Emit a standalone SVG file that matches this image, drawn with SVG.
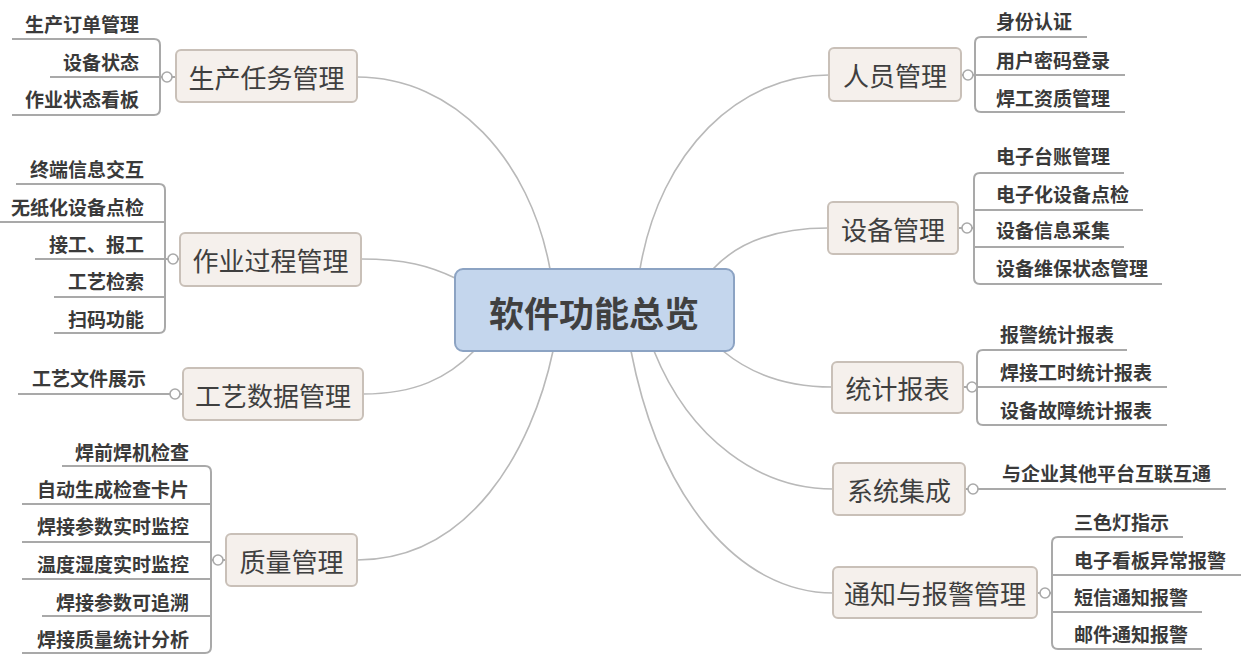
<svg xmlns="http://www.w3.org/2000/svg" width="1241" height="661" viewBox="0 0 1241 661">
<defs>
<style>
.bg{fill:#ffffff}
.curve{fill:none;stroke:#b9b9b9;stroke-width:1.6}
.br{fill:none;stroke:#a9a9a9;stroke-width:2}
.dot{fill:#ffffff;stroke:#a9a9a9;stroke-width:1.6}
.main rect{fill:#f5f0ec;stroke:#c9c0b8;stroke-width:2}
.main text{font-family:"Noto Sans CJK SC","Liberation Sans",sans-serif;font-size:26px;fill:#3f3f3f;text-anchor:middle;dominant-baseline:central}
.sub{font-family:"Noto Sans CJK SC","Liberation Sans",sans-serif;font-size:19px;font-weight:bold;fill:#3a3a3a;dominant-baseline:central}
.l{text-anchor:end}
.r{text-anchor:start}
</style>
</defs>
<rect class="bg" x="0" y="0" width="1241" height="661"/>

<g id="connectors">
<path class="curve" d="M357,77 C455,77 530,160 550,269"/>
<path class="curve" d="M361,259 C405,259 430,266 455,278"/>
<path class="curve" d="M363,394 C415,394 448,378 474,351"/>
<path class="curve" d="M357,560 C470,560 532,450 553,351"/>
<path class="curve" d="M640,269 C660,150 740,75 829,75"/>
<path class="curve" d="M713,269 C740,240 780,228 828,228"/>
<path class="curve" d="M723,351 C752,375 790,387 832,387"/>
<path class="curve" d="M654,351 C690,440 760,489 833,489"/>
<path class="curve" d="M631,351 C660,500 740,593 833,593"/>
<!-- short stubs from circles to boxes -->
<path class="br" d="M172,77 H176 M178,259 H180 M180,394 H183 M223,560 H226 M961,75 H963 M958,228 H962 M963,387 H967 M965,489 H968 M1037,593 H1040"/>
<!-- left brackets -->
<path class="br" d="M12,39 H154 Q160,39 160,45 V109 Q160,115 154,115 H12 M50,77 H162"/>
<path class="br" d="M16,184 H159 Q165,184 165,190 V327 Q165,333 159,333 H54 M0,222 H165 M35,259 H168 M54,297 H165"/>
<path class="br" d="M18,394 H170"/>
<path class="br" d="M62,466 H205 Q211,466 211,472 V647 Q211,653 205,653 H22 M22,504 H211 M22,542 H211 M22,579 H211 M42,616 H211 M211,560 H213"/>
<!-- right brackets -->
<path class="br" d="M1087,37 H981 Q975,37 975,43 V106 Q975,112 981,112 H1125 M973,75 H1125"/>
<path class="br" d="M1124,173 H980 Q974,173 974,179 V278 Q974,284 980,284 H1162 M974,210 H1143 M974,247 H1124 M972,228 H974"/>
<path class="br" d="M1127,350 H983 Q977,350 977,356 V419 Q977,425 983,425 H1167 M977,387 H1167"/>
<path class="br" d="M978,489 H1226"/>
<path class="br" d="M1183,537 H1058 Q1052,537 1052,543 V643 Q1052,649 1058,649 H1202 M1052,575 H1241 M1052,612 H1202 M1050,593 H1052"/>
<circle class="dot" cx="167" cy="77" r="5"/>
<circle class="dot" cx="173" cy="259" r="5"/>
<circle class="dot" cx="175" cy="394" r="5"/>
<circle class="dot" cx="218" cy="560" r="5"/>
<circle class="dot" cx="968" cy="75" r="5"/>
<circle class="dot" cx="967" cy="228" r="5"/>
<circle class="dot" cx="972" cy="387" r="5"/>
<circle class="dot" cx="973" cy="489" r="5"/>
<circle class="dot" cx="1045" cy="593" r="5"/>
</g>

<g id="center">
<rect x="455" y="269" width="279" height="82" rx="8" fill="#c4d6ed" stroke="#8ca3c3" stroke-width="2"/>
<text x="594" y="311" font-family="'Noto Sans CJK SC','Liberation Sans',sans-serif" font-size="35" font-weight="bold" fill="#404040" text-anchor="middle" dominant-baseline="central">软件功能总览</text>
</g>

<g id="t-production" class="main"><rect x="176" y="50" width="181" height="52" rx="5"/><text x="266.5" y="76">生产任务管理</text></g>
<g id="t-process" class="main"><rect x="180" y="233" width="181" height="53" rx="5"/><text x="270.5" y="259.5">作业过程管理</text></g>
<g id="t-craft" class="main"><rect x="183" y="368" width="180" height="52" rx="5"/><text x="273" y="394">工艺数据管理</text></g>
<g id="t-quality" class="main"><rect x="226" y="534" width="131" height="52" rx="5"/><text x="291.5" y="560">质量管理</text></g>
<g id="t-people" class="main"><rect x="829" y="48" width="132" height="53" rx="5"/><text x="895" y="74.5">人员管理</text></g>
<g id="t-device" class="main"><rect x="828" y="202" width="130" height="52" rx="5"/><text x="893" y="228">设备管理</text></g>
<g id="t-report" class="main"><rect x="832" y="362" width="131" height="51" rx="5"/><text x="897.5" y="387.5">统计报表</text></g>
<g id="t-integration" class="main"><rect x="833" y="463" width="132" height="52" rx="5"/><text x="899" y="489">系统集成</text></g>
<g id="t-alarm" class="main"><rect x="833" y="567" width="204" height="51" rx="5"/><text x="935" y="592.5">通知与报警管理</text></g>

<g id="s-production">
<text class="sub l" x="139" y="23">生产订单管理</text>
<text class="sub l" x="139" y="61">设备状态</text>
<text class="sub l" x="139" y="98">作业状态看板</text>
</g>
<g id="s-process">
<text class="sub l" x="144" y="168">终端信息交互</text>
<text class="sub l" x="144" y="206">无纸化设备点检</text>
<text class="sub l" x="144" y="243">接工、报工</text>
<text class="sub l" x="144" y="280">工艺检索</text>
<text class="sub l" x="144" y="318">扫码功能</text>
</g>
<g id="s-craft">
<text class="sub l" x="146" y="377">工艺文件展示</text>
</g>
<g id="s-quality">
<text class="sub l" x="189" y="451">焊前焊机检查</text>
<text class="sub l" x="189" y="488">自动生成检查卡片</text>
<text class="sub l" x="189" y="525">焊接参数实时监控</text>
<text class="sub l" x="189" y="563">温度湿度实时监控</text>
<text class="sub l" x="189" y="601">焊接参数可追溯</text>
<text class="sub l" x="189" y="638">焊接质量统计分析</text>
</g>
<g id="s-people">
<text class="sub r" x="996" y="20">身份认证</text>
<text class="sub r" x="996" y="59">用户密码登录</text>
<text class="sub r" x="996" y="97">焊工资质管理</text>
</g>
<g id="s-device">
<text class="sub r" x="996" y="155">电子台账管理</text>
<text class="sub r" x="996" y="193">电子化设备点检</text>
<text class="sub r" x="996" y="229">设备信息采集</text>
<text class="sub r" x="996" y="267">设备维保状态管理</text>
</g>
<g id="s-report">
<text class="sub r" x="1000" y="333">报警统计报表</text>
<text class="sub r" x="1000" y="371">焊接工时统计报表</text>
<text class="sub r" x="1000" y="409">设备故障统计报表</text>
</g>
<g id="s-integration">
<text class="sub r" x="1002" y="472">与企业其他平台互联互通</text>
</g>
<g id="s-alarm">
<text class="sub r" x="1074" y="521">三色灯指示</text>
<text class="sub r" x="1074" y="559">电子看板异常报警</text>
<text class="sub r" x="1074" y="596">短信通知报警</text>
<text class="sub r" x="1074" y="633">邮件通知报警</text>
</g>
</svg>
